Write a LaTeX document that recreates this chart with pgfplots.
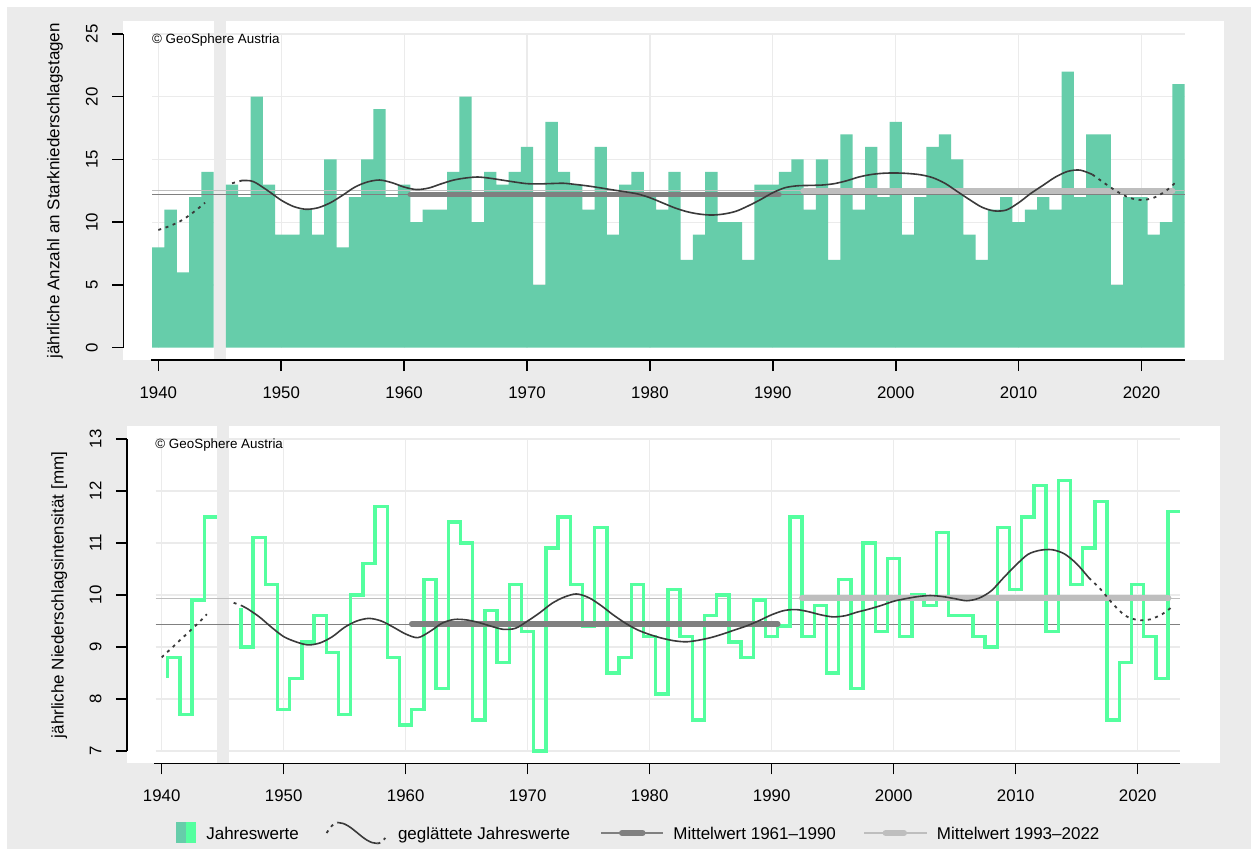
\documentclass[border=0pt]{standalone}
\usepackage{pgfplots}
\usepackage{pgfplotstable}
\pgfplotsset{compat=1.18}
\usepackage{fontspec}
\setmainfont{Liberation Sans}
\definecolor{bggrey}{HTML}{EBEBEB}
\definecolor{gridc}{HTML}{EBEBEB}
\definecolor{barteal}{HTML}{66CDAA}
\definecolor{stepgreen}{HTML}{54FF9F}
\definecolor{curvec}{HTML}{3A3A3A}
\definecolor{meandark}{HTML}{808080}
\definecolor{meanlight}{HTML}{BEBEBE}
\newcommand\tickfont{\fontsize{8.4}{10}\selectfont}
\newcommand\labfont{\fontsize{8.5}{10}\selectfont}
\newcommand\copyfont{\fontsize{6.7}{8}\selectfont}

\pgfplotstableread{
year days
1940 8
1941 11
1942 6
1943 12
1944 14
1945 nan
1946 13
1947 12
1948 20
1949 13
1950 9
1951 9
1952 11
1953 9
1954 15
1955 8
1956 12
1957 15
1958 19
1959 12
1960 13
1961 10
1962 11
1963 11
1964 14
1965 20
1966 10
1967 14
1968 13
1969 14
1970 16
1971 5
1972 18
1973 14
1974 13
1975 11
1976 16
1977 9
1978 13
1979 14
1980 12
1981 11
1982 14
1983 7
1984 9
1985 14
1986 10
1987 10
1988 7
1989 13
1990 13
1991 14
1992 15
1993 11
1994 15
1995 7
1996 17
1997 11
1998 16
1999 12
2000 18
2001 9
2002 12
2003 16
2004 17
2005 15
2006 9
2007 7
2008 11
2009 12
2010 10
2011 11
2012 12
2013 11
2014 22
2015 12
2016 17
2017 17
2018 5
2019 12
2020 12
2021 9
2022 10
2023 21
}\topdata

\pgfplotstableread{
year int
1940 8.4
1941 8.8
1942 7.7
1943 9.9
1944 11.5
1945 nan
1946 9.75
1947 9.0
1948 11.1
1949 10.2
1950 7.8
1951 8.4
1952 9.1
1953 9.6
1954 8.9
1955 7.7
1956 10.0
1957 10.6
1958 11.7
1959 8.8
1960 7.5
1961 7.8
1962 10.3
1963 8.2
1964 11.4
1965 11.0
1966 7.6
1967 9.7
1968 8.7
1969 10.2
1970 9.3
1971 7.0
1972 10.9
1973 11.5
1974 10.2
1975 9.4
1976 11.3
1977 8.5
1978 8.8
1979 10.2
1980 9.2
1981 8.1
1982 10.1
1983 9.2
1984 7.6
1985 9.6
1986 10.0
1987 9.1
1988 8.8
1989 9.9
1990 9.2
1991 9.4
1992 11.5
1993 9.2
1994 9.8
1995 8.5
1996 10.3
1997 8.2
1998 11.0
1999 9.3
2000 10.7
2001 9.2
2002 10.0
2003 9.8
2004 11.2
2005 9.6
2006 9.6
2007 9.2
2008 9.0
2009 11.3
2010 10.1
2011 11.5
2012 12.1
2013 9.3
2014 12.2
2015 10.2
2016 10.9
2017 11.8
2018 7.6
2019 8.7
2020 10.2
2021 9.2
2022 8.4
2023 11.6
}\botdata

\pgfplotsset{
  myaxis/.style={
    scale only axis,
    xmin=1937.15, xmax=2026.71,
    clip=false,
    axis background/.style={fill=white},
    axis line style={draw=none},
    tick align=outside, tick pos=left,
    major tick length=5.5pt,
    every tick/.style={black, line width=0.8pt},
    xtick={1940,1950,...,2020},
    xticklabels={1940,1950,1960,1970,1980,1990,2000,2010,2020},
    tick label style={font=\tickfont},
    xticklabel style={anchor=north},
    yticklabel style={rotate=90, anchor=south},
    xticklabel shift=4pt,
    yticklabel shift=3.7pt,
    ylabel style={at={(axis description cs:-0.062,0.5)}, anchor=center, font=\labfont},
  },
  smoothc/.style={smooth, draw=curvec, line width=0.8pt},
  dottedc/.style={smooth, draw=curvec, line width=0.9pt, dash pattern=on 1.5pt off 2.3pt},
}

\begin{document}
\begin{tikzpicture}
\useasboundingbox (0,0) rectangle (629pt,427.5pt);
\fill[white] (0,0) rectangle (629pt,427.5pt);
\fill[bggrey] (3.5pt,3pt) rectangle (625.5pt,424pt);

% ---------------- top panel ----------------
\begin{axis}[myaxis,
  at={(61.65pt,247.375pt)}, anchor=south west,
  width=550.35pt, height=169.425pt,
  ymin=-1, ymax=26,
  ytick={0,5,...,25}, yticklabels={0,5,10,15,20,25},
  ylabel={jährliche Anzahl an Starkniederschlagstagen},
]
\pgfplotsinvokeforeach{1940,1950,...,2020}{\draw[gridc, line width=0.6pt] (axis cs:#1,0) -- (axis cs:#1,25);}
\pgfplotsinvokeforeach{5,10,...,25}{\draw[gridc, line width=0.6pt] (axis cs:1939.5,#1) -- (axis cs:2023.5,#1);}
\addplot[fill=bggrey, draw=none] coordinates {(1944.5,-1) (1945.5,-1) (1945.5,26) (1944.5,26)} -- cycle;
\addplot[ybar, bar width=1, bar shift=0pt, fill=barteal, draw=none] table[x=year, y=days] {\topdata};
\addplot[meandark, line width=0.5pt] coordinates {(1939.5,12.2) (2023.5,12.2)};
\addplot[meanlight, line width=0.5pt] coordinates {(1939.5,12.5) (2023.5,12.5)};
\addplot[meandark, line width=2.8pt, line cap=round] coordinates {(1960.5,12.2) (1990.5,12.2)};
\addplot[meanlight, line width=3.2pt, line cap=round] coordinates {(1992.5,12.5) (2022.5,12.5)};
\addplot[dottedc] coordinates {(1940,9.38) (1941,9.72) (1942,10.2) (1943,10.9) (1943.8,11.55)};
\addplot[dottedc] coordinates {(1946,13.1) (1946.8,13.32)};
\addplot[smoothc] coordinates {(1946.8,13.32) (1947.5,13.3) (1948,13.1) (1949,12.45) (1950,11.75) (1951,11.25) (1952,11.03) (1953,11.15) (1954,11.55) (1955,12.15) (1956,12.8) (1957,13.2) (1958,13.36) (1959,13.15) (1960,12.8) (1961,12.6) (1962,12.72) (1963,13.05) (1964,13.35) (1965,13.52) (1966,13.6) (1967,13.5) (1968,13.35) (1969,13.2) (1970,13.07) (1971,13.05) (1972,13.08) (1973,13.1) (1974,13.0) (1975,12.88) (1976,12.73) (1977,12.57) (1978,12.42) (1979,12.25) (1980,11.95) (1981,11.55) (1982,11.15) (1983,10.84) (1984,10.65) (1985,10.57) (1986,10.65) (1987,10.87) (1988,11.3) (1989,11.8) (1990,12.35) (1991,12.75) (1992,12.9) (1993,12.93) (1994,12.96) (1995,13.07) (1996,13.3) (1997,13.6) (1998,13.8) (1999,13.9) (2000,13.92) (2001,13.88) (2002,13.78) (2003,13.55) (2004,13.1) (2005,12.45) (2006,11.8) (2007,11.2) (2008,10.9) (2009,10.97) (2010,11.55) (2011,12.3) (2012,12.95) (2013,13.6) (2014,14.05) (2015,14.15) (2016,13.8)};
\addplot[dottedc] coordinates {(2016,13.8) (2017,13.1) (2018,12.45) (2019,11.95) (2020,11.77) (2021,11.95) (2022,12.5) (2022.8,13.2)};
\draw[black, line width=0.8pt] (axis cs:1937.15,0) -- (axis cs:1937.15,25);
\draw[black, line width=0.8pt] (axis cs:1939.4,-1) -- (axis cs:2023.5,-1);
\end{axis}

% ---------------- bottom panel ----------------
\begin{axis}[myaxis,
  at={(63.45pt,45.75pt)}, anchor=south west,
  width=546.3pt, height=168.5pt,
  ymin=6.76, ymax=13.24,
  ytick={7,8,...,13}, yticklabels={7,8,9,10,11,12,13},
  ylabel={jährliche Niederschlagsintensität [mm]},
]
\pgfplotsinvokeforeach{1940,1950,...,2020}{\draw[gridc, line width=0.6pt] (axis cs:#1,7) -- (axis cs:#1,13);}
\pgfplotsinvokeforeach{7,8,...,13}{\draw[gridc, line width=0.6pt] (axis cs:1939.5,#1) -- (axis cs:2023.5,#1);}
\addplot[fill=bggrey, draw=none] coordinates {(1944.5,6.76) (1945.5,6.76) (1945.5,13.24) (1944.5,13.24)} -- cycle;
\addplot[meandark, line width=0.5pt] coordinates {(1939.5,9.44) (2023.5,9.44)};
\addplot[meanlight, line width=0.5pt] coordinates {(1939.5,9.94) (2023.5,9.94)};
\addplot[const plot mark right, draw=stepgreen, line width=1.7pt, unbounded coords=jump] table[x expr=\thisrow{year}+0.5, y=int] {\botdata};
\addplot[meandark, line width=2.8pt, line cap=round] coordinates {(1960.5,9.44) (1990.5,9.44)};
\addplot[meanlight, line width=3.2pt, line cap=round] coordinates {(1992.5,9.94) (2022.5,9.94)};
\addplot[dottedc] coordinates {(1940,8.8) (1941,9.02) (1942,9.24) (1943,9.46) (1943.7,9.63)};
\addplot[dottedc] coordinates {(1945.9,9.85) (1946.5,9.8)};
\addplot[smoothc] coordinates {(1946.5,9.8) (1947,9.74) (1948,9.58) (1949,9.38) (1950,9.2) (1951,9.1) (1952,9.04) (1953,9.08) (1954,9.2) (1955,9.38) (1956,9.5) (1957,9.55) (1958,9.5) (1959,9.38) (1960,9.25) (1961,9.18) (1962,9.3) (1963,9.46) (1964,9.53) (1965,9.52) (1966,9.47) (1967,9.4) (1968,9.34) (1969,9.36) (1970,9.5) (1971,9.66) (1972,9.84) (1973,9.96) (1974,10.02) (1975,9.95) (1976,9.8) (1977,9.62) (1978,9.46) (1979,9.33) (1980,9.24) (1981,9.17) (1982,9.12) (1983,9.1) (1984,9.13) (1985,9.18) (1986,9.25) (1987,9.33) (1988,9.41) (1989,9.51) (1990,9.62) (1991,9.7) (1992,9.72) (1993,9.68) (1994,9.62) (1995,9.58) (1996,9.6) (1997,9.67) (1998,9.73) (1999,9.8) (2000,9.88) (2001,9.93) (2002,9.97) (2003,9.99) (2004,9.97) (2005,9.93) (2006,9.89) (2007,9.94) (2008,10.08) (2009,10.33) (2010,10.57) (2011,10.78) (2012,10.86) (2013,10.87) (2014,10.79) (2015,10.6) (2016,10.33)};
\addplot[dottedc] coordinates {(2016,10.33) (2017,10.1) (2018,9.82) (2019,9.6) (2020,9.52) (2021,9.53) (2022,9.63) (2022.7,9.75)};
\draw[black, line width=0.8pt] (axis cs:1937.15,7) -- (axis cs:1937.15,13);
\draw[black, line width=0.8pt] (axis cs:1939.4,6.76) -- (axis cs:2023.5,6.76);
\end{axis}

% copyright notes
\node[anchor=west, inner sep=0pt, font=\copyfont] at (75.85pt,407.25pt) {© GeoSphere Austria};
\node[anchor=west, inner sep=0pt, font=\copyfont] at (77.5pt,205pt) {© GeoSphere Austria};

% legend
\fill[barteal] (87.75pt,5.75pt) rectangle (92.75pt,16.25pt);
\fill[stepgreen] (92.75pt,5.75pt) rectangle (97.75pt,16.25pt);
\node[anchor=base west, inner sep=0pt, font=\labfont] at (102.95pt,7.95pt) {Jahreswerte};
\draw[curvec, line width=0.9pt, dash pattern=on 1.5pt off 2.3pt] (163.3pt,11pt) sin (168.8pt,16.25pt);
\draw[curvec, line width=0.8pt] (168.8pt,16.25pt) cos (178.75pt,11pt) sin (188.7pt,5.75pt);
\draw[curvec, line width=0.9pt, dash pattern=on 1.5pt off 2.3pt] (188.7pt,5.75pt) cos (192.7pt,8.5pt);
\node[anchor=base west, inner sep=0pt, font=\labfont] at (198.8pt,7.95pt) {geglättete Jahreswerte};
\draw[meandark, line width=0.7pt] (300.5pt,11pt) -- (331.5pt,11pt);
\draw[meandark, line width=3pt, line cap=round] (311pt,11pt) -- (321.3pt,11pt);
\node[anchor=base west, inner sep=0pt, font=\labfont] at (336.5pt,7.95pt) {Mittelwert 1961–1990};
\draw[meanlight, line width=0.7pt] (432pt,11pt) -- (463.4pt,11pt);
\draw[meanlight, line width=3pt, line cap=round] (442.8pt,11pt) -- (452pt,11pt);
\node[anchor=base west, inner sep=0pt, font=\labfont] at (468.25pt,7.95pt) {Mittelwert 1993–2022};
\end{tikzpicture}
\end{document}
